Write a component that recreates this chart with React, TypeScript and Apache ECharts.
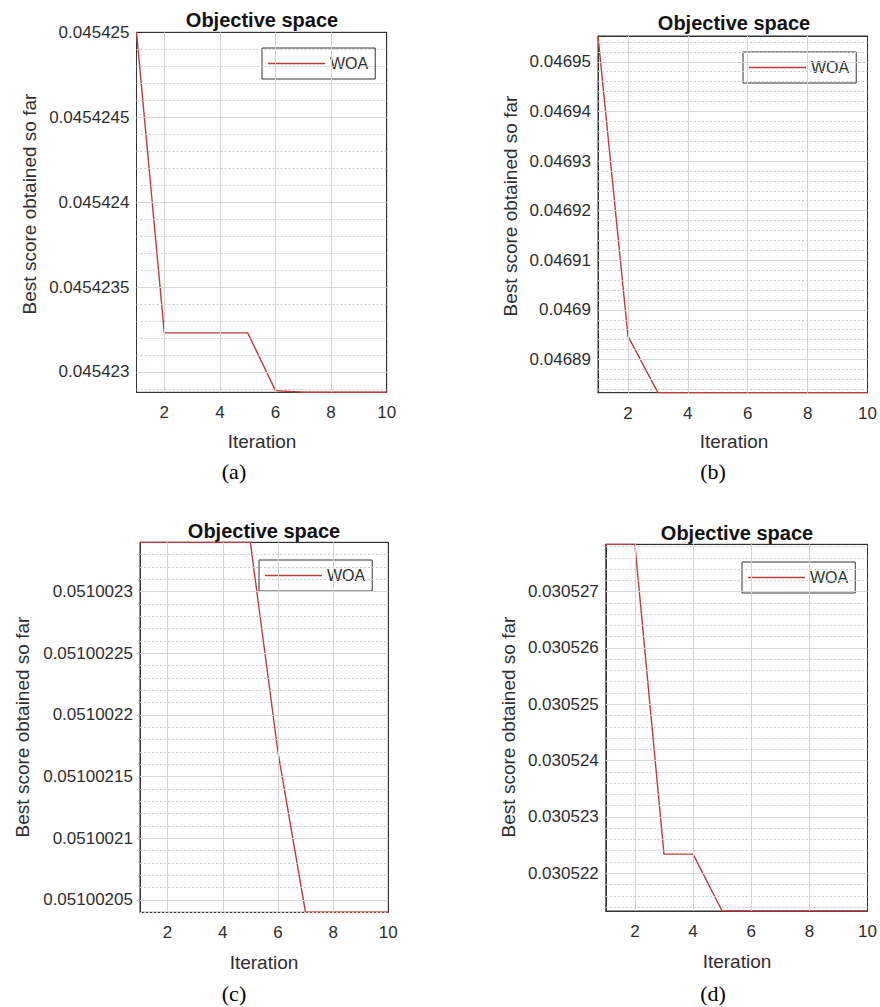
import React, { useEffect, useRef } from "react";
import * as echarts from "echarts";

// ---------------- data ----------------
const iterations = [1, 2, 3, 4, 5, 6, 7, 8, 9, 10];
const scoresA = [0.045425, 0.04542323, 0.04542323, 0.04542323, 0.04542323, 0.04542289, 0.04542288, 0.04542288, 0.04542288, 0.04542288];
const scoresB = [0.0469552, 0.0468947, 0.0468833, 0.0468833, 0.0468833, 0.0468833, 0.0468833, 0.0468833, 0.0468833, 0.0468833];
const scoresC = [0.05100234, 0.05100234, 0.05100234, 0.05100234, 0.05100234, 0.05100217, 0.05100204, 0.05100204, 0.05100204, 0.05100204];
const scoresD = [0.03052784, 0.03052784, 0.03052234, 0.03052234, 0.03052133, 0.03052133, 0.03052133, 0.03052133, 0.03052133, 0.03052133];

const yTicksA = [0.045423, 0.0454235, 0.045424, 0.0454245, 0.045425];
const yTicksB = [0.04689, 0.0469, 0.04691, 0.04692, 0.04693, 0.04694, 0.04695];
const yTicksC = [0.05100205, 0.0510021, 0.05100215, 0.0510022, 0.05100225, 0.0510023];
const yTicksD = [0.030522, 0.030523, 0.030524, 0.030525, 0.030526, 0.030527];
const xTicks = [2, 4, 6, 8, 10];

const captions = ["(a)", "(b)", "(c)", "(d)"];
const seriesName = "WOA";
const titleText = "Objective space";
const xName = "Iteration";
const yName = "Best score obtained so far";

// ---------------- layout ----------------
const panels = [
  { scores: scoresA, ticks: yTicksA, left: 136.5, top: 32.3, width: 250.2, height: 360, legend: [262, 48], title: [262, 20], xn: [262, 441], yn: [29, 204], cap: [234, 471] },
  { scores: scoresB, ticks: yTicksB, left: 598, top: 36, width: 272, height: 356.7, legend: [743, 52], title: [734, 23], xn: [734, 441], yn: [510, 206], cap: [713, 471] },
  { scores: scoresC, ticks: yTicksC, left: 140, top: 542.3, width: 248.3, height: 370, legend: [259, 560], title: [264, 531], xn: [264, 962], yn: [22, 727], cap: [234, 993] },
  { scores: scoresD, ticks: yTicksD, left: 605.8, top: 544.3, width: 262.5, height: 366.7, legend: [742, 562], title: [737, 533], xn: [737, 961], yn: [508, 727], cap: [713, 993] },
];

const FONT = "'Liberation Sans', Arial, sans-serif";
const TXT = "#2e2e2e";
const FRAME = "#333333";
const LINE = "#bf3b3b";

function buildOption() {
  const grid: any[] = [];
  const xAxis: any[] = [];
  const yAxis: any[] = [];
  const series: any[] = [];
  const legend: any[] = [];
  const graphic: any[] = [];
  const n = panels.length;

  panels.forEach((p, i) => {
    const ymin = Math.min(...p.scores);
    const ymax = Math.max(...p.scores);
    const major = p.ticks[1] - p.ticks[0];
    const minorStep = major / 5;
    const minor: number[] = [];
    for (let k = Math.ceil(ymin / minorStep - 1e-6); k <= Math.floor(ymax / minorStep + 1e-6); k++) {
      const v = k * minorStep;
      const isMajor = p.ticks.some((t) => Math.abs(t - v) < minorStep * 0.01);
      if (!isMajor && v > ymin && v < ymax) minor.push(v);
    }

    grid.push({
      left: p.left, top: p.top, width: p.width, height: p.height,
      show: true, borderColor: FRAME, borderWidth: 1, backgroundColor: "#fff",
      containLabel: false,
    });

    const fmt = (val: number) => {
      let best = p.ticks[0];
      for (const t of p.ticks) if (Math.abs(t - val) < Math.abs(best - val)) best = t;
      return String(best);
    };

    xAxis[i] = {
      type: "value", gridIndex: i, min: 1, max: 10, position: "bottom",
      axisLine: { show: true, onZero: false, lineStyle: { color: FRAME, width: 1 } },
      axisTick: { show: true, inside: true, length: 4, customValues: xTicks, lineStyle: { color: FRAME } },
      axisLabel: { show: true, customValues: xTicks, margin: 12, fontSize: 17, color: TXT, fontFamily: FONT },
      splitLine: { show: false },
    };
    xAxis[n + i] = {
      type: "value", gridIndex: i, min: 1, max: 10, position: "top",
      axisLine: { show: true, onZero: false, lineStyle: { color: FRAME, width: 1 } },
      axisTick: { show: true, inside: true, length: 4, customValues: xTicks, lineStyle: { color: FRAME } },
      axisLabel: { show: false },
      splitLine: { show: false },
    };
    yAxis[i] = {
      type: "value", gridIndex: i, min: ymin, max: ymax, position: "left", scale: true,
      axisLine: { show: true, onZero: false, lineStyle: { color: FRAME, width: 1 } },
      axisTick: { show: true, inside: true, length: 4, customValues: p.ticks, lineStyle: { color: FRAME } },
      axisLabel: { show: true, customValues: p.ticks, margin: 7, fontSize: 17, color: TXT, fontFamily: FONT, formatter: fmt },
      splitLine: { show: false },
    };
    yAxis[n + i] = {
      type: "value", gridIndex: i, min: ymin, max: ymax, position: "right", scale: true,
      axisLine: { show: true, onZero: false, lineStyle: { color: FRAME, width: 1 } },
      axisTick: { show: true, inside: true, length: 4, customValues: p.ticks, lineStyle: { color: FRAME } },
      axisLabel: { show: false },
      splitLine: { show: false },
    };

    const data = iterations.map((x, j) => [x, p.scores[j]]);

    const gridLines: any[] = [];
    xTicks.forEach((v) => {
      if (v < 10) gridLines.push({ xAxis: v, lineStyle: { color: "#d6d6d6", width: 1, type: "solid" } });
    });
    p.ticks.forEach((v) => {
      if (v > ymin && v < ymax) gridLines.push({ yAxis: v, lineStyle: { color: "#d6d6d6", width: 1, type: "solid" } });
    });
    minor.forEach((v) => {
      gridLines.push({ yAxis: v, lineStyle: { color: "#cccccc", width: 1, type: [2, 2] } });
    });

    series.push({
      name: "grid" + i, type: "line", xAxisIndex: i, yAxisIndex: i, data,
      symbol: "none", silent: true, z: 1,
      lineStyle: { opacity: 0 },
      markLine: { symbol: ["none", "none"], silent: true, animation: false, precision: 20, label: { show: false }, data: gridLines },
    });
    series.push({
      name: seriesName, type: "line", xAxisIndex: i, yAxisIndex: i, data,
      symbol: "none", showSymbol: false, z: 3,
      lineStyle: { color: LINE, width: 1.4 },
      itemStyle: { color: LINE },
    });

    legend.push({
      left: p.legend[0], top: p.legend[1], data: [{ name: seriesName, icon: "rect" }],
      backgroundColor: "#fff", borderColor: FRAME, borderWidth: 1, borderRadius: 0,
      padding: [7, 7, 7, 6], itemWidth: 57, itemHeight: 1.5, selectedMode: false,
      itemStyle: { color: LINE },
      textStyle: { fontSize: 16, color: TXT, fontFamily: FONT, lineHeight: 17 },
    });

    graphic.push({
      type: "text", x: p.title[0], y: p.title[1], silent: true,
      style: { text: titleText, fontSize: 20, fontWeight: "bold", fontFamily: FONT, fill: "#111", textAlign: "center", textVerticalAlign: "middle" },
    });
    graphic.push({
      type: "text", x: p.xn[0], y: p.xn[1], silent: true,
      style: { text: xName, fontSize: 19, fontFamily: FONT, fill: TXT, textAlign: "center", textVerticalAlign: "middle" },
    });
    graphic.push({
      type: "text", x: p.yn[0], y: p.yn[1], rotation: Math.PI / 2, silent: true,
      style: { text: yName, fontSize: 19, fontFamily: FONT, fill: TXT, textAlign: "center", textVerticalAlign: "middle" },
    });
    graphic.push({
      type: "text", x: p.cap[0], y: p.cap[1], silent: true,
      style: { text: captions[i], fontSize: 22, fontFamily: "'Liberation Serif', 'Times New Roman', serif", fill: "#000", textAlign: "center", textVerticalAlign: "middle" },
    });
  });

  return {
    animation: false,
    backgroundColor: "#fff",
    grid, xAxis, yAxis, series, legend, graphic,
  };
}

export default function App() {
  const ref = useRef<HTMLDivElement>(null);
  useEffect(() => {
    if (!ref.current) return;
    const chart = echarts.init(ref.current, undefined, { renderer: "svg" });
    chart.setOption(buildOption() as any);
    return () => chart.dispose();
  }, []);
  return (
    <div
      ref={ref}
      style={{ position: "absolute", left: 0, top: 0, width: 880, height: 1007, background: "#fff" }}
    />
  );
}
